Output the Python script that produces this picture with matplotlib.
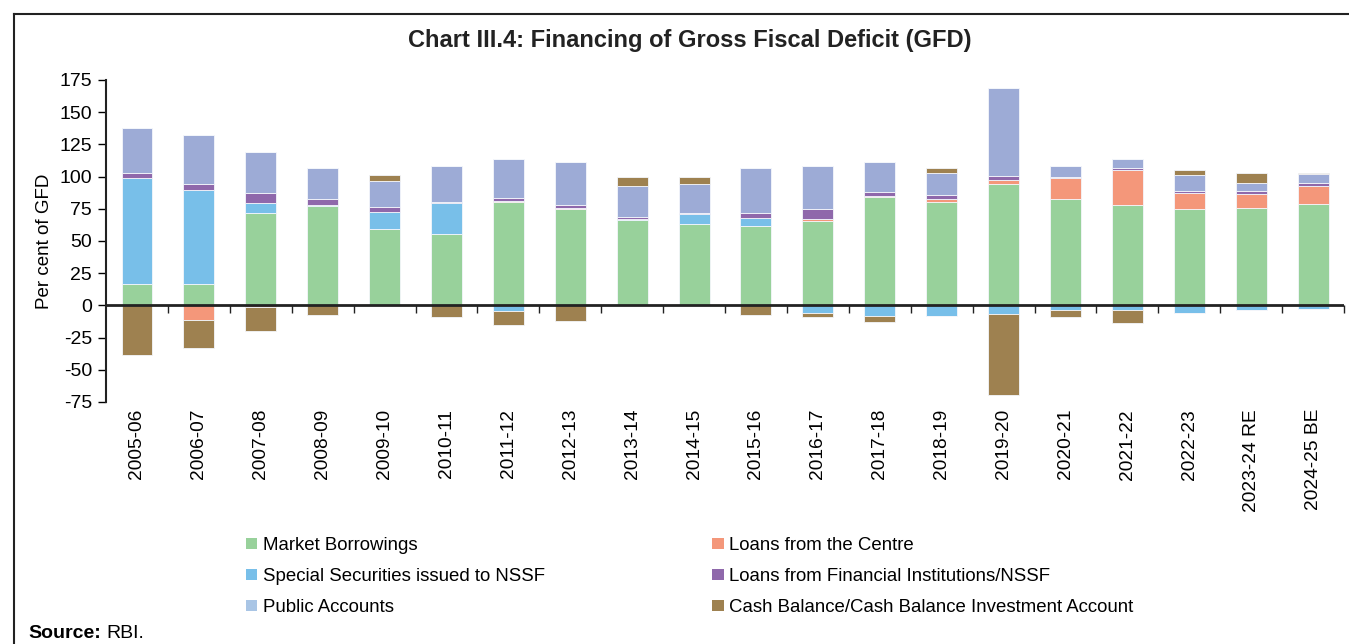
import matplotlib
matplotlib.use("Agg")
import matplotlib.pyplot as plt
import numpy as np
from matplotlib.lines import Line2D
from matplotlib.patches import Patch

plt.rcParams['font.family'] = ['Liberation Sans', 'DejaVu Sans']
plt.rcParams['axes.unicode_minus'] = False

years = ['2005-06', '2006-07', '2007-08', '2008-09', '2009-10', '2010-11', '2011-12',
         '2012-13', '2013-14', '2014-15', '2015-16', '2016-17', '2017-18', '2018-19',
         '2019-20', '2020-21', '2021-22', '2022-23', '2023-24 RE', '2024-25 BE']

# per cent of GFD, signed values (stacked upward if positive, downward if negative)
market_borrowings = [16.6, 16.6, 71.4, 77.1, 59.5, 55.1, 80.3, 75.1, 66.0, 63.4,
                     61.3, 65.7, 84.2, 80.3, 94.5, 82.3, 77.7, 75.1, 75.3, 79.0]
loans_centre = [0, -11.2, -1.3, 0, 0, 0.5, 0.5, 0.7, 0, 0,
                0, 1.1, 0.7, 2.0, 2.6, 16.9, 27.2, 11.9, 11.5, 13.5]
special_securities = [82.1, 72.8, 7.8, 1.1, 12.7, 23.6, -4.7, 0, 1.0, 7.2,
                      6.5, -5.7, -8.0, -8.0, -6.5, -3.9, -3.9, -5.7, -3.9, -3.1]
loans_fi = [3.9, 4.6, 8.1, 4.1, 4.2, 1.4, 2.6, 2.1, 1.6, 1.1,
            3.9, 8.0, 3.1, 3.7, 3.4, 0.5, 1.9, 1.6, 2.0, 2.3]
public_accounts = [35.1, 38.2, 31.9, 24.7, 20.5, 27.8, 30.6, 33.8, 23.9, 22.8,
                   35.3, 33.5, 23.7, 17.1, 68.1, 8.6, 6.7, 12.4, 6.5, 7.3]
cash_balance = [-38.4, -21.5, -18.2, -7.8, 4.1, -9.4, -10.4, -12.5, 7.2, 5.5,
                -7.5, -3.1, -4.7, 3.9, -63.1, -4.9, -9.6, 3.9, 7.6, 1.0]

series = [
    ('Market Borrowings', market_borrowings, '#98d19b', '#98d19b'),
    ('Loans from the Centre', loans_centre, '#f4977a', '#f4977a'),
    ('Special Securities issued to NSSF', special_securities, '#78bfe9', '#78bfe9'),
    ('Loans from Financial Institutions/NSSF', loans_fi, '#8f68ab', '#8f68ab'),
    ('Public Accounts', public_accounts, '#9dabd6', '#a9c5e5'),
    ('Cash Balance/Cash Balance Investment Account', cash_balance, '#9e8150', '#9e8150'),
]

fig = plt.figure(figsize=(13.49, 6.44), dpi=100)
ax = fig.add_axes([0.0786, 0.3758, 0.9177, 0.5])

x = np.arange(len(years))
pos_base = np.zeros(len(years))
neg_base = np.zeros(len(years))
for name, vals, col, lcol in series:
    v = np.array(vals, dtype=float)
    p = np.where(v > 0, v, 0)
    n = np.where(v < 0, v, 0)
    ax.bar(x, p, 0.5, bottom=pos_base, color=col, edgecolor='#f4f6fb', linewidth=0.6)
    ax.bar(x, n, 0.5, bottom=neg_base, color=col, edgecolor='#f4f6fb', linewidth=0.6)
    pos_base += p
    neg_base += n

ax.set_xlim(-0.5, 19.5)
ax.set_ylim(-75, 175)
ax.set_yticks(np.arange(-75, 176, 25))
ax.tick_params(axis='y', labelsize=14, length=6, width=1, direction='out', pad=4)
ax.set_ylabel('Per cent of GFD', fontsize=13.5, labelpad=5)
ax.set_xticks(x)
ax.set_xticklabels(years, rotation=90, fontsize=13.8)
ax.tick_params(axis='x', length=0, pad=5)
for s in ['top', 'right', 'bottom']:
    ax.spines[s].set_visible(False)
ax.spines['left'].set_linewidth(1.5)
ax.spines['left'].set_color('#222222')
ax.axhline(0, color='#222222', linewidth=2)

# category separator ticks on the zero line
zero_frac = (0 - ax.get_ylim()[0]) / (ax.get_ylim()[1] - ax.get_ylim()[0])
sec = ax.secondary_xaxis(zero_frac)
sec.set_xticks(np.append(x[:-1] + 0.5, 19.5))
sec.tick_params(axis='x', length=6, width=1, direction='out', labelbottom=False, colors='#222222')
sec.spines['bottom'].set_visible(False)

fig.text(0.511, 0.937, 'Chart III.4: Financing of Gross Fiscal Deficit (GFD)',
         ha='center', va='center', fontsize=17, fontweight='bold', color='#222222')

handles = [Patch(facecolor=lcol, edgecolor='none', label=name) for name, _, _, lcol in series]
order = [0, 2, 4, 1, 3, 5]
fig.legend([handles[i] for i in order], [series[i][0] for i in order],
           ncol=2, loc='upper left', bbox_to_anchor=(0.170, 0.192),
           frameon=False, fontsize=13.4, handlelength=0.6, handleheight=0.6,
           handletextpad=0.3, columnspacing=9.0, labelspacing=0.75)

fig.text(0.021, 0.003, 'Source:', fontsize=14, fontweight='bold', ha='left', va='bottom')
fig.text(0.079, 0.003, 'RBI.', fontsize=14, ha='left', va='bottom')

# frame lines at top and left
fig.add_artist(Line2D([0.0104, 1.0], [0.979, 0.979], color='#222222', linewidth=1.5))
fig.add_artist(Line2D([0.0104, 0.0104], [0.0, 0.979], color='#222222', linewidth=1.5))

fig.savefig('out.png', dpi=100)
